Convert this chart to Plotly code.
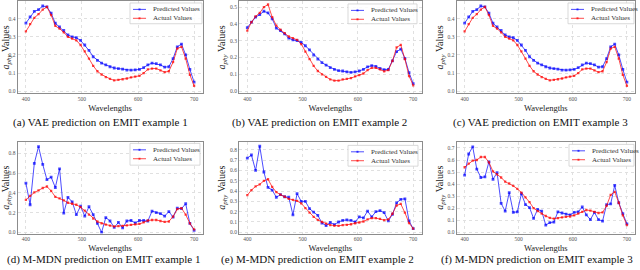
import plotly.graph_objects as go

# ---------------- data ----------------
wavelengths = [400, 407.5, 415, 422.5, 430, 437.5, 445, 452.5, 460, 467.5,
               475, 482.5, 490, 497.5, 505, 512.5, 520, 527.5, 535, 542.5,
               550, 557.5, 565, 572.5, 580, 587.5, 595, 602.5, 610, 617.5,
               625, 632.5, 640, 647.5, 655, 662.5, 670, 677.5, 685, 692.5, 700]

vae_ex1_pred = [0.376, 0.41, 0.44, 0.45, 0.47, 0.465, 0.43, 0.375, 0.355, 0.335,
                0.31, 0.30, 0.295, 0.28, 0.255, 0.225, 0.19, 0.17, 0.155, 0.145,
                0.135, 0.128, 0.125, 0.122, 0.116, 0.116, 0.118, 0.12, 0.13, 0.145,
                0.155, 0.152, 0.145, 0.133, 0.135, 0.18, 0.245, 0.26, 0.2, 0.12, 0.05]
ex1_actual = [0.33, 0.37, 0.405, 0.425, 0.45, 0.465, 0.42, 0.36, 0.345, 0.325,
              0.30, 0.29, 0.28, 0.255, 0.22, 0.18, 0.14, 0.11, 0.092, 0.078,
              0.068, 0.06, 0.062, 0.066, 0.07, 0.076, 0.08, 0.085, 0.1, 0.12,
              0.125, 0.125, 0.115, 0.105, 0.11, 0.16, 0.235, 0.245, 0.18, 0.09, 0.03]

vae_ex2_pred = [0.378, 0.41, 0.44, 0.455, 0.475, 0.465, 0.43, 0.375, 0.36, 0.34,
                0.315, 0.305, 0.30, 0.29, 0.27, 0.245, 0.215, 0.19, 0.17, 0.155,
                0.14, 0.13, 0.122, 0.12, 0.115, 0.112, 0.115, 0.12, 0.13, 0.145,
                0.152, 0.148, 0.135, 0.128, 0.13, 0.18, 0.235, 0.25, 0.195, 0.11, 0.045]
ex2_actual = [0.36, 0.41, 0.445, 0.465, 0.50, 0.515, 0.44, 0.39, 0.365, 0.345,
              0.325, 0.315, 0.305, 0.28, 0.235, 0.19, 0.15, 0.12, 0.10, 0.085,
              0.07, 0.063, 0.063, 0.07, 0.073, 0.078, 0.088, 0.095, 0.105, 0.125,
              0.138, 0.138, 0.13, 0.118, 0.125, 0.18, 0.26, 0.275, 0.19, 0.09, 0.035]

vae_ex3_pred = [0.376, 0.41, 0.44, 0.45, 0.47, 0.465, 0.43, 0.375, 0.355, 0.335,
                0.31, 0.30, 0.295, 0.28, 0.255, 0.225, 0.19, 0.17, 0.155, 0.145,
                0.135, 0.128, 0.125, 0.122, 0.116, 0.116, 0.118, 0.12, 0.13, 0.145,
                0.155, 0.152, 0.145, 0.133, 0.135, 0.18, 0.245, 0.26, 0.2, 0.12, 0.05]
vae_ex3_actual = [0.33, 0.37, 0.405, 0.425, 0.45, 0.465, 0.42, 0.36, 0.345, 0.325,
                  0.30, 0.29, 0.28, 0.255, 0.22, 0.18, 0.14, 0.11, 0.092, 0.078,
                  0.068, 0.06, 0.062, 0.066, 0.07, 0.076, 0.08, 0.085, 0.1, 0.12,
                  0.125, 0.125, 0.115, 0.105, 0.11, 0.16, 0.235, 0.245, 0.18, 0.09, 0.03]

mdn_ex1_pred = [0.50, 0.28, 0.70, 0.87, 0.69, 0.535, 0.56, 0.455, 0.645, 0.195,
                0.355, 0.31, 0.18, 0.265, 0.165, 0.26, 0.18, 0.09, 0.0, 0.15,
                0.115, 0.05, 0.10, 0.045, 0.115, 0.12, 0.095, 0.12, 0.12, 0.115,
                0.215, 0.20, 0.19, 0.165, 0.21, 0.155, 0.245, 0.24, 0.29, 0.09, 0.02]

mdn_ex2_pred = [0.72, 0.75, 0.60, 0.835, 0.585, 0.435, 0.41, 0.34, 0.365, 0.345,
                0.34, 0.17, 0.375, 0.30, 0.30, 0.23, 0.195, 0.165, 0.09, 0.065,
                0.095, 0.075, 0.10, 0.115, 0.12, 0.115, 0.10, 0.15, 0.14, 0.205,
                0.15, 0.20, 0.21, 0.19, 0.11, 0.175, 0.285, 0.32, 0.325, 0.11, 0.035]

mdn_ex3_pred = [0.475, 0.65, 0.71, 0.525, 0.455, 0.46, 0.585, 0.44, 0.495, 0.24,
                0.175, 0.33, 0.165, 0.17, 0.32, 0.23, 0.205, 0.115, 0.19, 0.175,
                0.06, 0.08, 0.085, 0.17, 0.16, 0.15, 0.145, 0.165, 0.17, 0.21,
                0.145, 0.105, 0.165, 0.105, 0.093, 0.23, 0.235, 0.39, 0.245, 0.155, 0.07]
mdn_ex3_actual = [0.54, 0.57, 0.595, 0.60, 0.625, 0.625, 0.58, 0.505, 0.48, 0.455,
                  0.42, 0.405, 0.385, 0.36, 0.33, 0.29, 0.25, 0.2, 0.175, 0.155,
                  0.135, 0.12, 0.113, 0.118, 0.123, 0.127, 0.13, 0.14, 0.155, 0.17,
                  0.185, 0.18, 0.17, 0.16, 0.165, 0.22, 0.31, 0.335, 0.245, 0.14, 0.06]

captions = ["(a) VAE prediction on EMIT example 1",
            "(b) VAE prediction on EMIT example 2",
            "(c) VAE prediction on EMIT example 3",
            "(d) M-MDN prediction on EMIT example 1",
            "(e) M-MDN prediction on EMIT example 2",
            "(f) M-MDN prediction on EMIT example 3"]
x_ticks = [400, 500, 600, 700]
series_names = ["Predicted Values", "Actual Values"]

# ---------------- layout helpers ----------------
W, H = 640, 270
FONT = "Liberation Serif"
BLUE = "rgba(0,0,255,0.7)"
RED = "rgba(255,0,0,0.7)"


def px(x):
    return x / W


def py(y):
    return 1 - y / H


col_px = [(17.5, 202.5), (239, 421.5), (456.5, 635)]
row_px = [(0.5, 93.5), (142.3, 235.2)]

panels = [
    dict(pred=vae_ex1_pred, act=ex1_actual, yr=[-0.0125, 0.495], dt=0.1, r=0, c=0,
         leg=(130, 2, 202, 23), cap_x=100),
    dict(pred=vae_ex2_pred, act=ex2_actual, yr=[-0.0135, 0.533], dt=0.1, r=0, c=1,
         leg=(348, 3, 417, 23), cap_x=319.5),
    dict(pred=vae_ex3_pred, act=vae_ex3_actual, yr=[-0.0125, 0.495], dt=0.1, r=0, c=2,
         leg=(568, 2, 634, 23), cap_x=540),
    dict(pred=mdn_ex1_pred, act=ex1_actual, yr=[-0.013, 0.92], dt=0.2, r=1, c=0,
         leg=(130, 144, 200, 166), cap_x=103.5),
    dict(pred=mdn_ex2_pred, act=ex2_actual, yr=[-0.0125, 0.879], dt=0.1, r=1, c=1,
         leg=(348, 146, 418, 167), cap_x=317.7),
    dict(pred=mdn_ex3_pred, act=mdn_ex3_actual, yr=[-0.011, 0.752], dt=0.1, r=1, c=2,
         leg=(569, 145, 634, 167), cap_x=536.7),
]

fig = go.Figure()
shapes = []
annotations = []
cap_y = [123.3, 261.7]

for i, p in enumerate(panels):
    k = "" if i == 0 else str(i + 1)
    xa, ya = "x" + k, "y" + k
    fig.add_trace(go.Scatter(x=wavelengths, y=p["pred"], mode="lines+markers",
                             name=series_names[0], xaxis=xa, yaxis=ya, showlegend=False,
                             line=dict(color=BLUE, width=1.0),
                             marker=dict(size=2.8, color=BLUE, symbol="square")))
    fig.add_trace(go.Scatter(x=wavelengths, y=p["act"], mode="lines+markers",
                             name=series_names[1], xaxis=xa, yaxis=ya, showlegend=False,
                             line=dict(color=RED, width=1.0),
                             marker=dict(size=2.3, color=RED, symbol="square")))
    cx0, cx1 = col_px[p["c"]]
    ry0, ry1 = row_px[p["r"]]
    common = dict(showline=True, mirror=True, linecolor="#8c8c8c", linewidth=1,
                  showgrid=True, gridcolor="#e0e0e0", gridwidth=0.7, griddash="dot",
                  zeroline=False, ticks="", ticklen=0,
                  tickfont=dict(family=FONT, size=5.5, color="#555"))
    fig.layout["xaxis" + k] = dict(common, domain=[px(cx0), px(cx1)], anchor=ya,
                                  range=[385, 715], tickvals=x_ticks,
                                  title=dict(text="Wavelengths", standoff=3,
                                             font=dict(family=FONT, size=8.5, color="#222")))
    fig.layout["yaxis" + k] = dict(common, domain=[py(ry1), py(ry0)], anchor=xa,
                                  range=p["yr"], dtick=p["dt"], tick0=0, tickformat=".1f",
                                  title=dict(text="<i>a</i><sub><i>phy</i></sub> Values",
                                             standoff=2,
                                             font=dict(family=FONT, size=10, color="#222")))
    # legend box drawn per panel
    lx0, ly0, lx1, ly1 = p["leg"]
    shapes.append(dict(type="rect", xref="paper", yref="paper",
                       x0=px(lx0), x1=px(lx1), y0=py(ly1), y1=py(ly0),
                       line=dict(color="#cfcfcf", width=0.8),
                       fillcolor="rgba(255,255,255,0.85)", layer="above"))
    rows = [ly0 + 6.5, ly0 + 15.5]
    for j, (col, nm) in enumerate(zip([BLUE, RED], series_names)):
        yy = rows[j]
        shapes.append(dict(type="line", xref="paper", yref="paper",
                           x0=px(lx0 + 3), x1=px(lx0 + 16), y0=py(yy), y1=py(yy),
                           line=dict(color=col, width=1.0), layer="above"))
        shapes.append(dict(type="rect", xref="paper", yref="paper",
                           x0=px(lx0 + 8.5), x1=px(lx0 + 10.5), y0=py(yy + 1), y1=py(yy - 1),
                           line=dict(width=0), fillcolor=col, layer="above"))
        annotations.append(dict(text=nm, xref="paper", yref="paper",
                                x=px(lx0 + 21), y=py(yy), xanchor="left", yanchor="middle",
                                showarrow=False,
                                font=dict(family=FONT, size=7, color="#333")))
    annotations.append(dict(text=captions[i], xref="paper", yref="paper",
                            x=px(p["cap_x"]), y=py(cap_y[p["r"]]),
                            xanchor="center", yanchor="middle", showarrow=False,
                            font=dict(family=FONT, size=11, color="#111")))

fig.update_layout(width=W, height=H, margin=dict(l=0, r=0, t=0, b=0),
                  paper_bgcolor="white", plot_bgcolor="white",
                  shapes=shapes, annotations=annotations, showlegend=False,
                  font=dict(family=FONT, size=10))

fig.write_html("out.html", config={"displayModeBar": False},
               post_script="document.body.style.margin='0';document.body.style.overflow='hidden';")
